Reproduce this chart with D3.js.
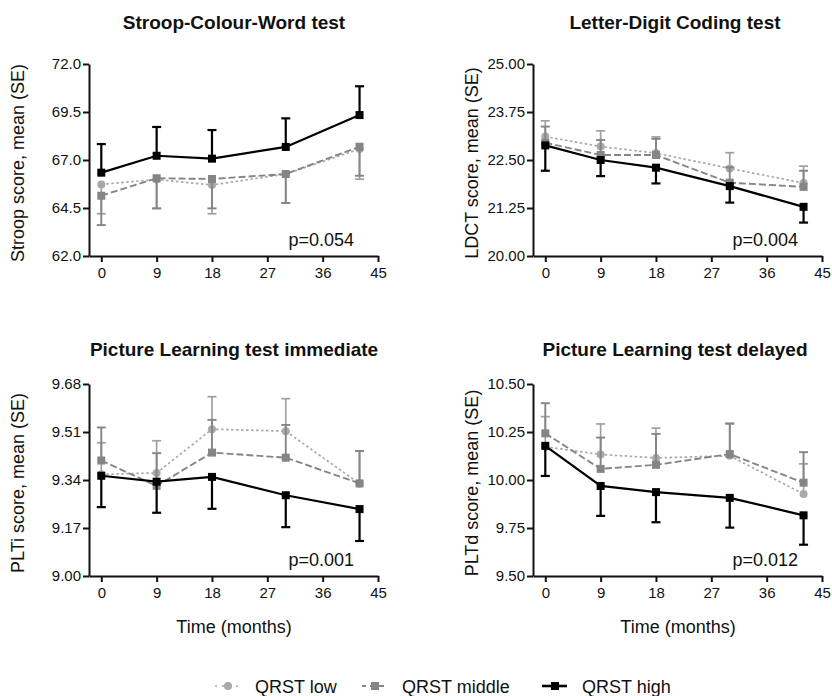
<!DOCTYPE html>
<html>
<head>
<meta charset="utf-8">
<script src="https://cdn.jsdelivr.net/npm/d3@7"></script>
<style>
  body { margin: 0; background: #fff; }
  svg { display: block; font-family: Arial, "Liberation Sans", sans-serif; }
</style>
</head>
<body>
<svg id="chart" width="832" height="696"></svg>
<script>
// time points (months) and axis ticks
const months = [0, 9, 18, 30, 42];
const xTicks = [0, 9, 18, 27, 36, 45];

// Stroop-Colour-Word test
const stroopLow = [65.73, 65.99, 65.70, 66.27, 67.57];
const stroopLowSE = [1.53, 1.51, 1.50, 1.51, 1.57];
const stroopMid = [65.14, 66.05, 66.01, 66.27, 67.69];
const stroopMidSE = [1.53, 1.57, 1.53, 1.51, 1.51];
const stroopHigh = [66.34, 67.22, 67.07, 67.68, 69.34];
const stroopHighSE = [1.49, 1.50, 1.49, 1.49, 1.50];
const stroopTicks = [62.0, 64.5, 67.0, 69.5, 72.0];

// Letter-Digit Coding test
const ldctLow = [23.11, 22.85, 22.68, 22.28, 21.90];
const ldctLowSE = [0.41, 0.41, 0.42, 0.41, 0.44];
const ldctMid = [22.95, 22.63, 22.63, 21.91, 21.80];
const ldctMidSE = [0.42, 0.39, 0.42, 0.40, 0.42];
const ldctHigh = [22.88, 22.50, 22.30, 21.82, 21.28];
const ldctHighSE = [0.66, 0.42, 0.41, 0.43, 0.41];
const ldctTicks = [20.00, 21.25, 22.50, 23.75, 25.00];

// Picture Learning test immediate
const pltiLow = [9.360, 9.365, 9.520, 9.513, 9.327];
const pltiLowSE = [0.112, 0.114, 0.115, 0.115, 0.116];
const pltiMid = [9.409, 9.319, 9.437, 9.419, 9.328];
const pltiMidSE = [0.117, 0.116, 0.116, 0.116, 0.115];
const pltiHigh = [9.355, 9.334, 9.351, 9.286, 9.237];
const pltiHighSE = [0.111, 0.110, 0.113, 0.113, 0.113];
const pltiTicks = [9.00, 9.17, 9.34, 9.51, 9.68];

// Picture Learning test delayed
const pltdLow = [10.173, 10.133, 10.115, 10.126, 9.927];
const pltdLowSE = [0.157, 0.159, 0.155, 0.166, 0.157];
const pltdMid = [10.243, 10.058, 10.079, 10.135, 9.986];
const pltdMidSE = [0.157, 0.163, 0.161, 0.160, 0.159];
const pltdHigh = [10.178, 9.969, 9.937, 9.907, 9.816];
const pltdHighSE = [0.157, 0.156, 0.157, 0.155, 0.153];
const pltdTicks = [9.50, 9.75, 10.00, 10.25, 10.50];

const groupNames = ["QRST low", "QRST middle", "QRST high"];

// group styles
const styles = [
  { color: "#a9a9a9", barColor: "#a0a0a0", dash: "2.5,2.5", shape: "circle", width: 1.7 },
  { color: "#858585", barColor: "#858585", dash: "7,3", shape: "square", width: 1.9 },
  { color: "#000000", barColor: "#000000", dash: null, shape: "square", width: 2.2 }
];

// errSign: +1 bar goes up, -1 goes down
const panels = [
  { title: "Stroop-Colour-Word test", yLabel: "Stroop score, mean (SE)", ticks: stroopTicks, fmt: ".1f", p: "p=0.054",
    means: [stroopLow, stroopMid, stroopHigh], ses: [stroopLowSE, stroopMidSE, stroopHighSE], errSign: [-1, -1, 1], col: 0, row: 0 },
  { title: "Letter-Digit Coding test", yLabel: "LDCT score, mean (SE)", ticks: ldctTicks, fmt: ".2f", p: "p=0.004",
    means: [ldctLow, ldctMid, ldctHigh], ses: [ldctLowSE, ldctMidSE, ldctHighSE], errSign: [1, 1, -1], col: 1, row: 0 },
  { title: "Picture Learning test immediate", yLabel: "PLTi score, mean (SE)", ticks: pltiTicks, fmt: ".2f", p: "p=0.001",
    means: [pltiLow, pltiMid, pltiHigh], ses: [pltiLowSE, pltiMidSE, pltiHighSE], errSign: [1, 1, -1], col: 0, row: 1 },
  { title: "Picture Learning test delayed", yLabel: "PLTd score, mean (SE)", ticks: pltdTicks, fmt: ".2f", p: "p=0.012",
    means: [pltdLow, pltdMid, pltdHigh], ses: [pltdLowSE, pltdMidSE, pltdHighSE], errSign: [1, 1, -1], col: 1, row: 1 }
];

const svg = d3.select("#chart");
const colLeft = [89, 533];
const rowTop = [64, 384];
const plotW = 289, plotH = 192;
const yLabelX = [18, 472];
const capHalf = 4.5;
const half = 4;

panels.forEach(pn => {
  const x0 = colLeft[pn.col], y0 = rowTop[pn.row];
  const g = svg.append("g").attr("transform", `translate(${x0},${y0})`);

  const x = d3.scaleLinear().domain([-2, 45]).range([0, plotW]);
  const y = d3.scaleLinear().domain([pn.ticks[0], pn.ticks[pn.ticks.length - 1]]).range([plotH, 0]);

  // axes
  const yAxis = g.append("g")
    .call(d3.axisLeft(y).tickValues(pn.ticks).tickFormat(d3.format(pn.fmt)).tickSize(6).tickSizeOuter(0).tickPadding(2));
  const xAxis = g.append("g").attr("transform", `translate(0,${plotH})`)
    .call(d3.axisBottom(x).tickValues(xTicks).tickSize(6).tickSizeOuter(0).tickPadding(5));
  [xAxis, yAxis].forEach(a => {
    a.selectAll("path, line").attr("stroke", "#111").attr("stroke-width", 2);
    a.selectAll("text").attr("fill", "#111").style("font-size", "15px").style("font-family", "Arial, 'Liberation Sans', sans-serif");
  });

  // title
  svg.append("text")
    .attr("x", x0 + (pn.col === 0 ? 145 : 142)).attr("y", pn.row === 0 ? 29 : 356)
    .attr("text-anchor", "middle")
    .style("font-size", "19px").style("font-weight", "bold").attr("fill", "#111")
    .text(pn.title);

  // y label
  svg.append("text")
    .attr("transform", `translate(${yLabelX[pn.col]},${y0 + plotH / 2 + 3}) rotate(-90)`)
    .attr("text-anchor", "middle").attr("dy", "0.35em")
    .style("font-size", "18px").attr("fill", "#111")
    .text(pn.yLabel);

  // x label on bottom row
  if (pn.row === 1) {
    svg.append("text")
      .attr("x", x0 + 145).attr("y", 633)
      .attr("text-anchor", "middle")
      .style("font-size", "18px").attr("fill", "#111")
      .text("Time (months)");
  }

  // p value
  g.append("text")
    .attr("x", plotW - 24).attr("y", plotH - 10)
    .attr("text-anchor", "end")
    .style("font-size", "18px").attr("fill", "#111")
    .text(pn.p);

  pn.means.forEach((vals, gi) => {
    const st = styles[gi];
    const pts = months.map((m, i) => ({ m, v: vals[i], se: pn.ses[gi][i] }));
    const sign = pn.errSign[gi];

    // error bars
    const eb = g.append("g");
    pts.forEach(d => {
      const yEnd = y(d.v + sign * d.se);
      eb.append("line")
        .attr("x1", x(d.m)).attr("x2", x(d.m))
        .attr("y1", y(d.v)).attr("y2", yEnd)
        .attr("stroke", st.barColor).attr("stroke-width", st.width);
      eb.append("line")
        .attr("x1", x(d.m) - capHalf).attr("x2", x(d.m) + capHalf)
        .attr("y1", yEnd).attr("y2", yEnd)
        .attr("stroke", st.barColor).attr("stroke-width", st.width);
    });

    // line
    g.append("path")
      .datum(pts)
      .attr("fill", "none")
      .attr("stroke", st.color)
      .attr("stroke-width", st.width)
      .attr("stroke-dasharray", st.dash)
      .attr("d", d3.line().x(d => x(d.m)).y(d => y(d.v)));

    // markers
    if (st.shape === "circle") {
      g.selectAll(null).data(pts).enter().append("circle")
        .attr("cx", d => x(d.m)).attr("cy", d => y(d.v)).attr("r", half)
        .attr("fill", st.color);
    } else {
      g.selectAll(null).data(pts).enter().append("rect")
        .attr("x", d => x(d.m) - half).attr("y", d => y(d.v) - half)
        .attr("width", half * 2).attr("height", half * 2)
        .attr("fill", st.color);
    }
  });
});

// legend
const legendX = [228, 375, 555];
const legendY = 686;
const legend = svg.append("g");
groupNames.forEach((name, gi) => {
  const st = styles[gi];
  const cx = legendX[gi];
  legend.append("line")
    .attr("x1", cx - 13).attr("x2", cx + 12)
    .attr("y1", legendY).attr("y2", legendY)
    .attr("stroke", st.color).attr("stroke-width", gi === 2 ? 2.6 : st.width)
    .attr("stroke-dasharray", gi === 0 ? "2,5" : gi === 1 ? "5,4" : null)
    .attr("stroke-dashoffset", gi === 0 ? 0 : 1);
  if (st.shape === "circle") {
    legend.append("circle").attr("cx", cx).attr("cy", legendY).attr("r", half).attr("fill", st.color);
  } else {
    legend.append("rect").attr("x", cx - half).attr("y", legendY - half).attr("width", half * 2).attr("height", half * 2).attr("fill", st.color);
  }
  legend.append("text")
    .attr("x", cx + 27).attr("y", legendY + 6.5)
    .style("font-size", "18px").attr("fill", "#111")
    .text(name);
});
</script>
</body>
</html>
